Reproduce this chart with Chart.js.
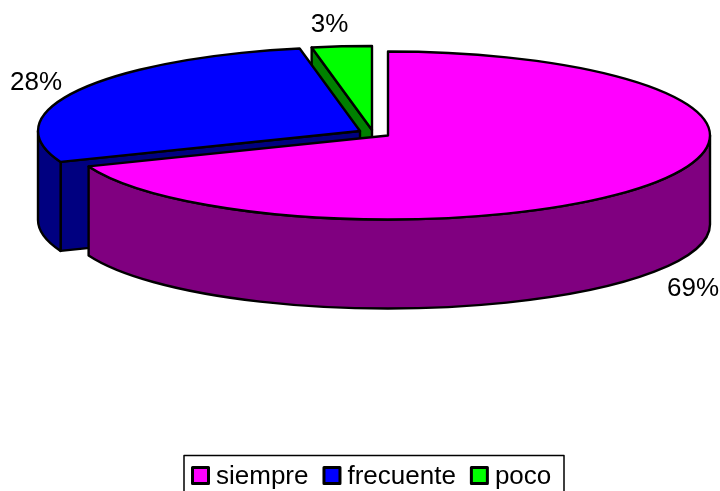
<!DOCTYPE html>
<html>
<head>
<meta charset="utf-8">
<style>
html, body { margin: 0; padding: 0; background: #fff; overflow: hidden; }
canvas { display: block; }
</style>
<script src="https://cdn.jsdelivr.net/npm/chart.js@4/dist/chart.umd.min.js"></script>
</head>
<body>
<canvas id="Chart" width="720" height="491"></canvas>
<script>
let categories = ['siempre', 'frecuente', 'poco'];
let values = [69, 28, 3];
let topColors = ['#ff00ff', '#0000ff', '#00ff00'];
let sideColors = ['#800080', '#000080', '#008000'];

// how the flat pie is laid on its side
let pie3d = { cx: 388, cy: 135.5, rx: 322, ry: 84, depth: 89 };
// exploded slices, in pixels away from the pie centre
let explodeX = [0, -28, -16];
let explodeY = [0, -4.5, -5.5];

let labelX = [693, 36, 329.5];
let labelY = [296, 89.5, 32];
let fontName = '"Liberation Sans", Arial, sans-serif';

function drawFace(ctx, cx, cy, angle, color) {
    let x = cx + pie3d.rx * Math.cos(angle);
    let y = cy + pie3d.ry * Math.sin(angle);
    ctx.beginPath();
    ctx.moveTo(cx, cy);
    ctx.lineTo(x, y);
    ctx.lineTo(x, y + pie3d.depth);
    ctx.lineTo(cx, cy + pie3d.depth);
    ctx.closePath();
    ctx.fillStyle = color;
    ctx.fill();
    ctx.stroke();
}

function drawSlice(ctx, arc, i) {
    let cx = pie3d.cx + explodeX[i];
    let cy = pie3d.cy + explodeY[i];
    let a = arc.startAngle;
    let b = arc.endAngle;

    // cut faces that turn towards the viewer
    if (Math.cos(a) < -0.001) drawFace(ctx, cx, cy, a, sideColors[i]);
    if (Math.cos(b) > 0.001) drawFace(ctx, cx, cy, b, sideColors[i]);

    // outer wall, only the front half of the rim shows
    let lo = Math.max(a, 0);
    let hi = Math.min(b, Math.PI);
    if (hi > lo) {
        ctx.beginPath();
        ctx.ellipse(cx, cy, pie3d.rx, pie3d.ry, 0, lo, hi);
        ctx.ellipse(cx, cy + pie3d.depth, pie3d.rx, pie3d.ry, 0, hi, lo, true);
        ctx.closePath();
        ctx.fillStyle = sideColors[i];
        ctx.fill();
        ctx.stroke();
    }

    // top
    ctx.beginPath();
    ctx.moveTo(cx, cy);
    ctx.ellipse(cx, cy, pie3d.rx, pie3d.ry, 0, a, b);
    ctx.closePath();
    ctx.fillStyle = topColors[i];
    ctx.fill();
    ctx.stroke();
}

function drawLegend(ctx) {
    ctx.strokeStyle = '#000';
    ctx.lineWidth = 1.5;
    ctx.strokeRect(184, 455.5, 380, 60);
    ctx.font = '26px ' + fontName;
    ctx.textAlign = 'left';
    ctx.textBaseline = 'alphabetic';
    ctx.lineWidth = 3;
    let x = 192.5;
    categories.forEach(function (name, i) {
        ctx.fillStyle = topColors[i];
        ctx.fillRect(x, 467.5, 16, 16);
        ctx.strokeRect(x, 467.5, 16, 16);
        ctx.fillStyle = '#000';
        ctx.fillText(name, x + 23.5, 483.5);
        x += 23.5 + ctx.measureText(name).width + 15.5;
    });
}

let pie3dPlugin = {
    id: 'pie3d',
    // replaces the flat arcs, angles still come from the chart's own elements
    beforeDatasetsDraw: function (chart) {
        let ctx = chart.ctx;
        let arcs = chart.getDatasetMeta(0).data;
        ctx.save();
        ctx.lineWidth = 2.4;
        ctx.lineJoin = 'round';
        ctx.strokeStyle = '#000';
        // back to front
        for (let i = arcs.length - 1; i >= 0; i--) {
            drawSlice(ctx, arcs[i], i);
        }
        ctx.fillStyle = '#000';
        ctx.font = '26px ' + fontName;
        ctx.textAlign = 'center';
        ctx.textBaseline = 'alphabetic';
        let total = values.reduce(function (s, v) { return s + v; }, 0);
        values.forEach(function (v, i) {
            ctx.fillText(Math.round(v / total * 100) + '%', labelX[i], labelY[i]);
        });
        drawLegend(ctx);
        ctx.restore();
        return false;
    },
};

let presentdata = new Chart(document.getElementById('Chart'), {
    type: 'pie',
    data: {
        labels: categories,
        datasets: [{
            data: values,
            backgroundColor: topColors,
            borderColor: '#000',
        }],
    },
    options: {
        responsive: false,
        animation: false,
        plugins: {
            legend: { display: false },
            tooltip: { enabled: false },
        },
    },
    plugins: [pie3dPlugin],
});
</script>
</body>
</html>
